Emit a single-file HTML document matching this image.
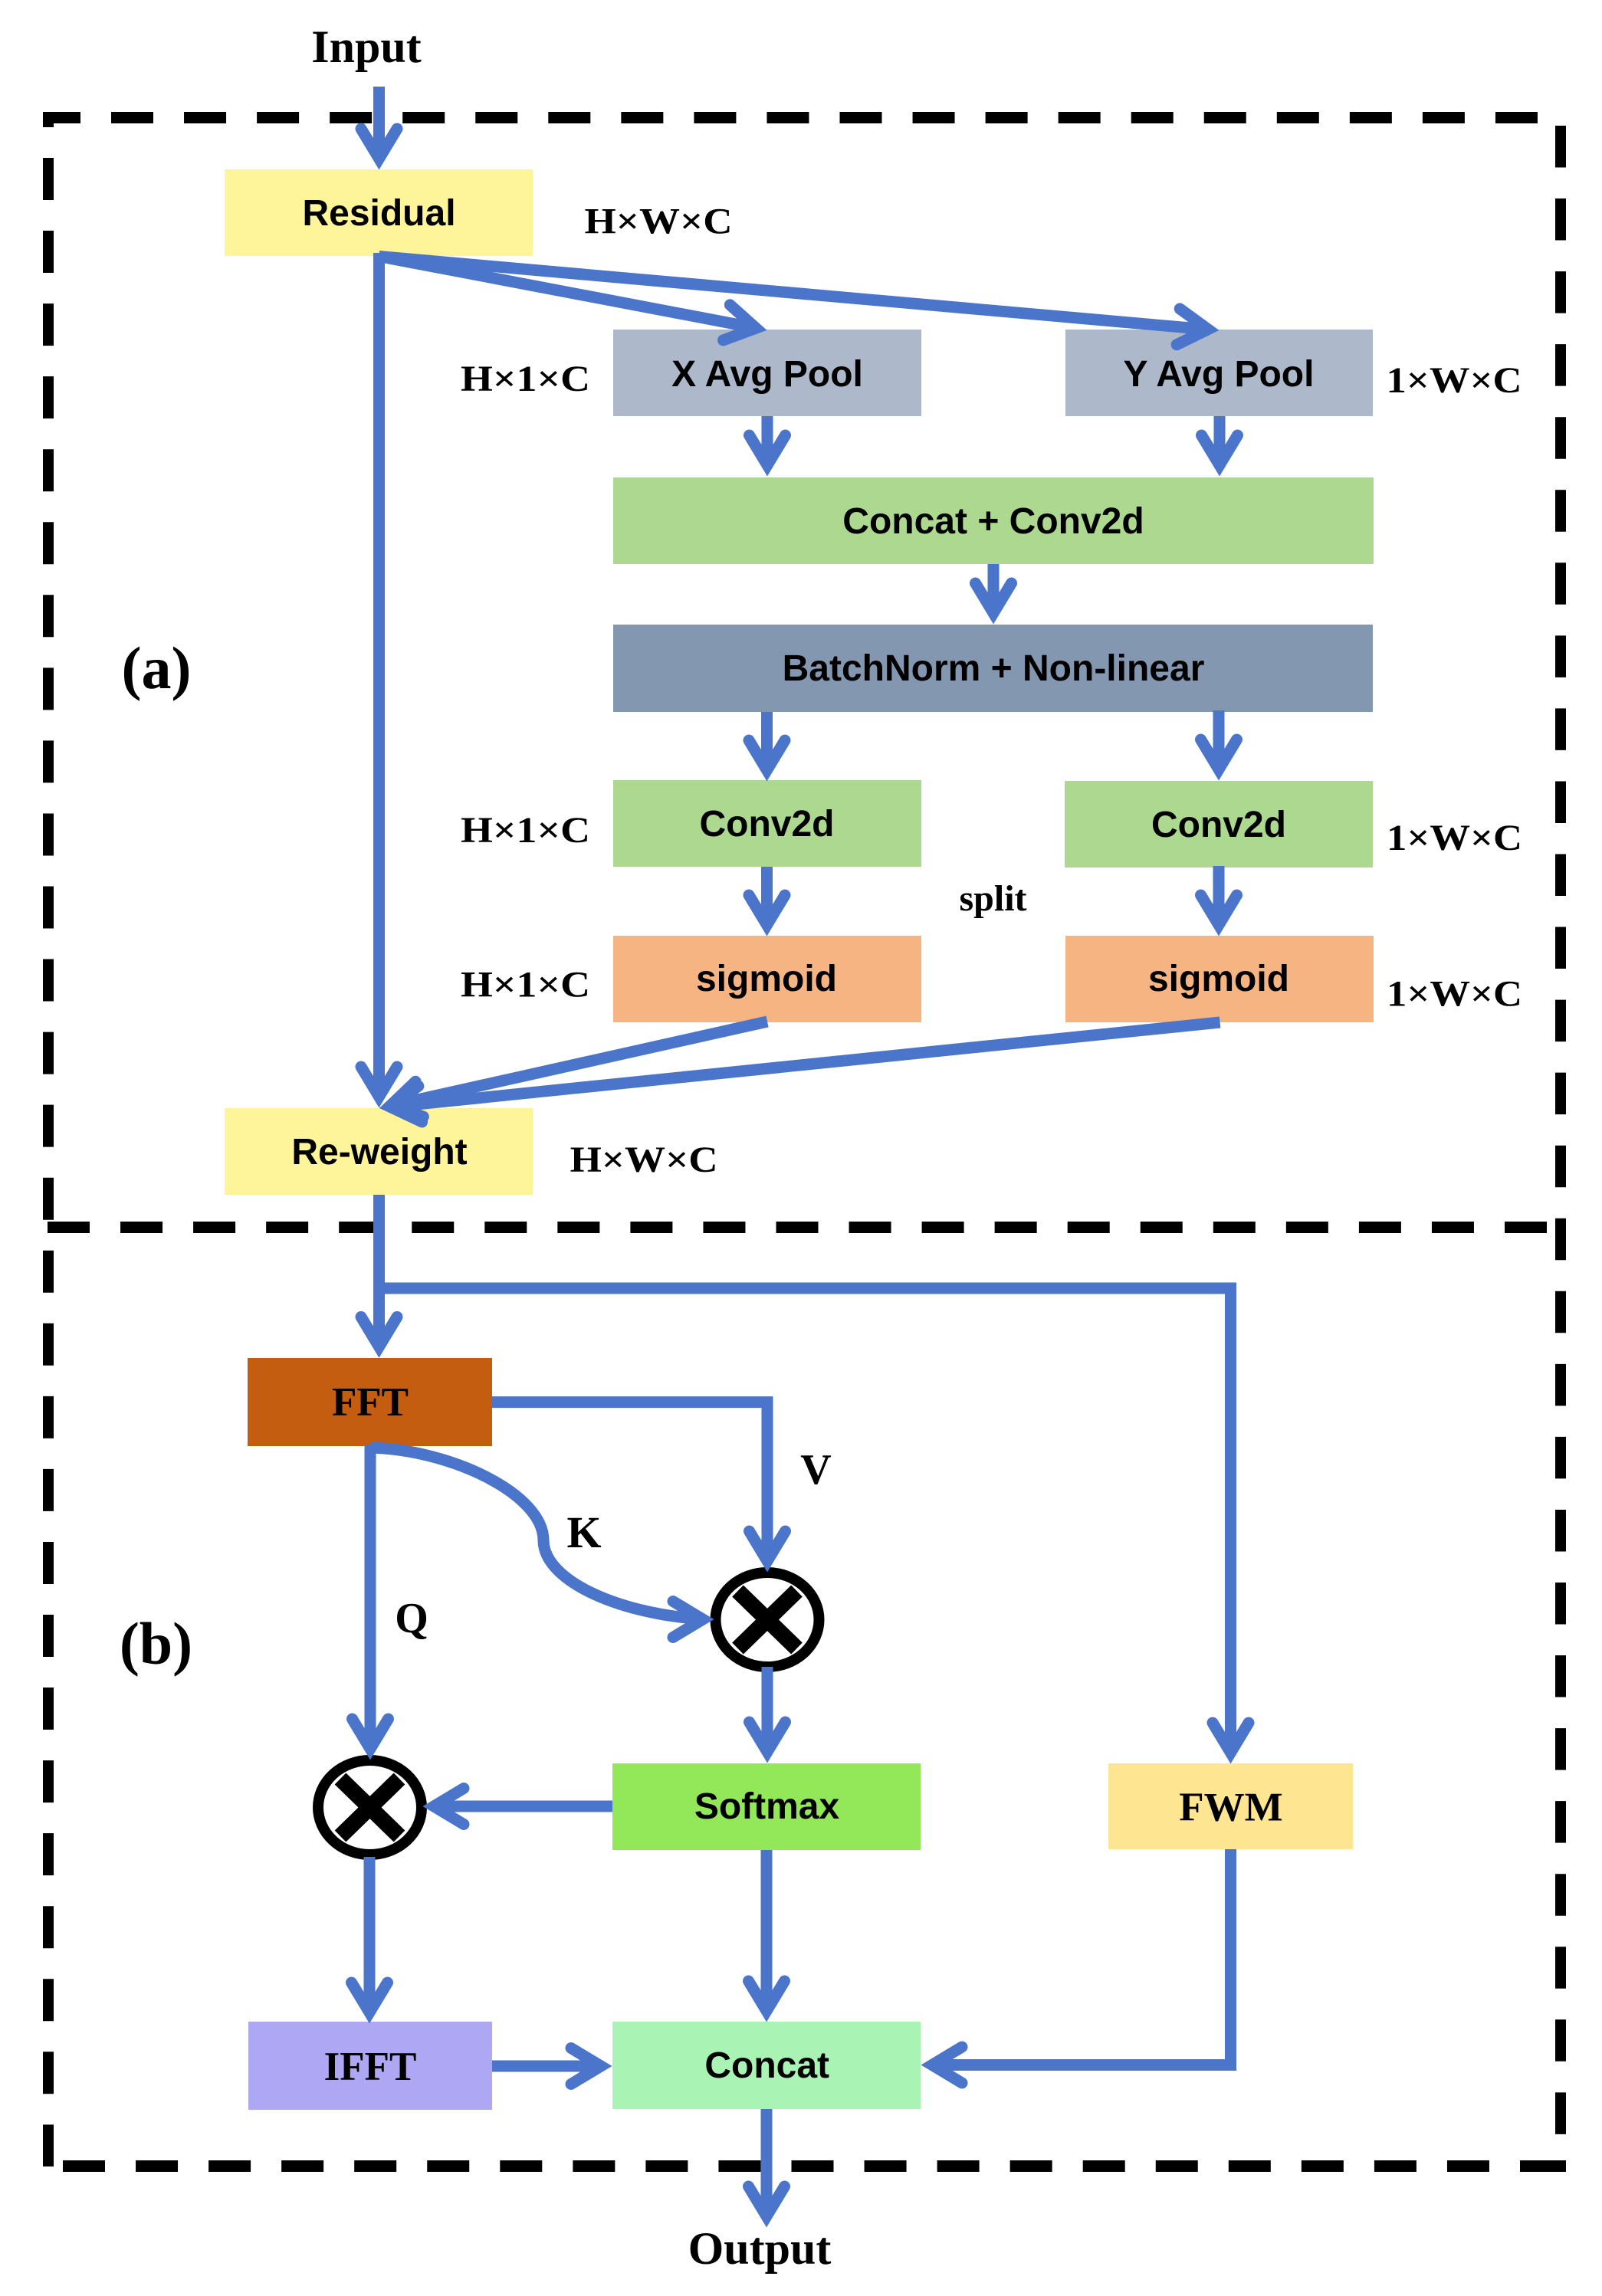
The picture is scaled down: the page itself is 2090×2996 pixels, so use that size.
<!DOCTYPE html>
<html><head><meta charset="utf-8"><title>Diagram</title>
<style>
html,body{margin:0;padding:0;background:#fff}
svg{display:block}
.s{font-family:"Liberation Serif",serif;font-weight:bold;fill:#000}
.a{font-family:"Liberation Sans",sans-serif;font-weight:bold;font-size:48px;fill:#000;text-anchor:middle}
.m{text-anchor:middle}
</style></head><body>
<svg xmlns="http://www.w3.org/2000/svg" width="2090" height="2996" viewBox="0 0 2090 2996">
<defs>
<path id="ah" d="M-23.5 -54 L0 -15 L23.5 -54" fill="none" stroke="#4A75CB" stroke-width="15" stroke-linecap="round" stroke-linejoin="miter" stroke-miterlimit="10"/>
</defs>
<rect width="2090" height="2996" fill="#fff"/>

<!-- dashed frames -->
<g stroke="#000" fill="none">
<line x1="56" y1="153.5" x2="105" y2="153.5" stroke-width="15"/>
<line x1="145" y1="153.5" x2="2006" y2="153.5" stroke-width="15" stroke-dasharray="55 40.05"/>
<line x1="63" y1="146" x2="63" y2="166" stroke-width="14"/>
<line x1="63" y1="206" x2="63" y2="2827" stroke-width="14" stroke-dasharray="55 40.05"/>
<line x1="2036" y1="164" x2="2036" y2="2834" stroke-width="14" stroke-dasharray="54.5 40.55"/>
<line x1="62" y1="1601.5" x2="2018" y2="1601.5" stroke-width="15" stroke-dasharray="55 40.05"/>
<line x1="82" y1="2826.5" x2="2037" y2="2826.5" stroke-width="15" stroke-dasharray="55 40.05"/>
<line x1="2030" y1="2826.5" x2="2043" y2="2826.5" stroke-width="15"/>
</g>

<!-- boxes -->
<rect x="293" y="221" width="402" height="113" fill="#FEF49A"/>
<rect x="800" y="430" width="402" height="113" fill="#ADB9CA"/>
<rect x="1390" y="430" width="401" height="113" fill="#ADB9CA"/>
<rect x="800" y="623" width="992" height="113" fill="#ADD88F"/>
<rect x="800" y="815" width="991" height="114" fill="#8497B0"/>
<rect x="800" y="1018" width="402" height="113" fill="#ADD88F"/>
<rect x="1389" y="1019" width="402" height="113" fill="#ADD88F"/>
<rect x="800" y="1221" width="402" height="113" fill="#F5B482"/>
<rect x="1390" y="1221" width="402" height="113" fill="#F5B482"/>
<rect x="293" y="1446" width="402" height="113" fill="#FEF49A"/>
<rect x="323" y="1772" width="319" height="115" fill="#C55D10"/>
<rect x="799" y="2301" width="402" height="113" fill="#93E85A"/>
<rect x="1446" y="2301" width="319" height="112" fill="#FEE591"/>
<rect x="324" y="2638" width="318" height="115" fill="#AEA8F4"/>
<rect x="799" y="2638" width="402" height="114" fill="#A9F3B4"/>

<!-- multiply circles -->
<ellipse cx="1001" cy="2113.5" rx="67.5" ry="61.5" fill="#fff" stroke="#000" stroke-width="14"/>
<path d="M962.5 2076 L1039.5 2151 M1039.5 2076 L962.5 2151" stroke="#000" stroke-width="21" fill="none"/>
<ellipse cx="482.5" cy="2358.5" rx="67.5" ry="61.5" fill="#fff" stroke="#000" stroke-width="14"/>
<path d="M444 2321 L521 2396 M521 2321 L444 2396" stroke="#000" stroke-width="21" fill="none"/>

<!-- connector lines -->
<g stroke="#4A75CB" stroke-width="15" fill="none" stroke-linejoin="miter">
<line x1="494.5" y1="113" x2="494.5" y2="207"/>
<line x1="494.5" y1="330" x2="494.5" y2="1431"/>
<line x1="494.5" y1="334.5" x2="986" y2="428"/>
<line x1="494.5" y1="334.5" x2="1576" y2="430"/>
<line x1="1001" y1="543" x2="1001" y2="607"/>
<line x1="1591" y1="543" x2="1591" y2="607"/>
<line x1="1296" y1="736" x2="1296" y2="800"/>
<line x1="1000.5" y1="929" x2="1000.5" y2="1005"/>
<line x1="1590" y1="927" x2="1590" y2="1004"/>
<line x1="1000.5" y1="1131" x2="1000.5" y2="1207"/>
<line x1="1590" y1="1130" x2="1590" y2="1207"/>
<line x1="1001" y1="1333" x2="509" y2="1443"/>
<line x1="1591.6" y1="1334" x2="509" y2="1444.5"/>
<line x1="494.5" y1="1559" x2="494.5" y2="1758"/>
<path d="M494.5 1681 L1605.5 1681 L1605.5 2287"/>
<path d="M642 1829.6 L1001 1829.6 L1001 2037"/>
<line x1="483" y1="1885" x2="483" y2="2282"/>
<path d="M484 1889 C590 1892 709 1950 709 2010 C709 2060 800 2105 917 2113"/>
<line x1="1001" y1="2175" x2="1001" y2="2286"/>
<line x1="799" y1="2357" x2="566" y2="2357"/>
<line x1="482" y1="2423" x2="482" y2="2626"/>
<line x1="1000" y1="2414" x2="1000" y2="2624"/>
<line x1="642" y1="2696" x2="784" y2="2696"/>
<path d="M1605.5 2413 L1605.5 2694.5 L1216 2694.5"/>
<line x1="1000" y1="2752" x2="1000" y2="2892"/>
</g>

<!-- arrowheads -->
<use href="#ah" transform="translate(494.5,222)"/>
<use href="#ah" transform="translate(1001,431) rotate(-79.2)"/>
<use href="#ah" transform="translate(1591,431) rotate(-85)"/>
<use href="#ah" transform="translate(1001,622)"/>
<use href="#ah" transform="translate(1591,622)"/>
<use href="#ah" transform="translate(1296,815)"/>
<use href="#ah" transform="translate(1000.5,1020)"/>
<use href="#ah" transform="translate(1590,1019)"/>
<use href="#ah" transform="translate(1000.5,1222)"/>
<use href="#ah" transform="translate(1590,1222)"/>
<use href="#ah" transform="translate(494.5,1446)"/>
<use href="#ah" transform="translate(494.5,1446) rotate(77.4)"/>
<use href="#ah" transform="translate(494.5,1446) rotate(84.2)"/>
<use href="#ah" transform="translate(494.5,1772.4)"/>
<use href="#ah" transform="translate(1605.5,2302)"/>
<use href="#ah" transform="translate(1001,2052)"/>
<use href="#ah" transform="translate(932,2113) rotate(-90)"/>
<use href="#ah" transform="translate(483,2297)"/>
<use href="#ah" transform="translate(1001,2301)"/>
<use href="#ah" transform="translate(551,2357) rotate(90)"/>
<use href="#ah" transform="translate(482,2641)"/>
<use href="#ah" transform="translate(1000,2639)"/>
<use href="#ah" transform="translate(799,2696) rotate(-90)"/>
<use href="#ah" transform="translate(1201,2694.5) rotate(90)"/>
<use href="#ah" transform="translate(1000,2907)"/>

<!-- sans labels -->
<text class="a" x="494.5" y="294">Residual</text>
<text class="a" x="1001" y="504">X Avg Pool</text>
<text class="a" x="1590" y="504">Y Avg Pool</text>
<text class="a" x="1296" y="696">Concat + Conv2d</text>
<text class="a" x="1296" y="888">BatchNorm + Non-linear</text>
<text class="a" x="1000.5" y="1091">Conv2d</text>
<text class="a" x="1590" y="1092">Conv2d</text>
<text class="a" x="1000" y="1293">sigmoid</text>
<text class="a" x="1590" y="1293">sigmoid</text>
<text class="a" x="495" y="1519">Re-weight</text>
<text class="a" x="1000.5" y="2373">Softmax</text>
<text class="a" x="1000.7" y="2711">Concat</text>

<!-- serif labels -->
<text class="s m" x="478" y="81" font-size="60">Input</text>
<text class="s m" x="991" y="2954" font-size="60">Output</text>
<text class="s" x="762.5" y="304.6" font-size="48" textLength="193" lengthAdjust="spacingAndGlyphs">H×W×C</text>
<text class="s" x="601" y="510" font-size="48" textLength="169" lengthAdjust="spacingAndGlyphs">H×1×C</text>
<text class="s" x="1808.5" y="512" font-size="48" textLength="177" lengthAdjust="spacingAndGlyphs">1×W×C</text>
<text class="s" x="601" y="1099" font-size="48" textLength="169" lengthAdjust="spacingAndGlyphs">H×1×C</text>
<text class="s" x="1809" y="1109" font-size="48" textLength="177" lengthAdjust="spacingAndGlyphs">1×W×C</text>
<text class="s" x="601" y="1300.5" font-size="48" textLength="169" lengthAdjust="spacingAndGlyphs">H×1×C</text>
<text class="s" x="1809" y="1312.5" font-size="48" textLength="177" lengthAdjust="spacingAndGlyphs">1×W×C</text>
<text class="s" x="743.6" y="1529" font-size="48" textLength="193" lengthAdjust="spacingAndGlyphs">H×W×C</text>
<text class="s m" x="1295.5" y="1188" font-size="48">split</text>
<text class="s m" x="204" y="898" font-size="78">(a)</text>
<text class="s m" x="203.5" y="2171" font-size="78">(b)</text>
<text class="s m" x="483" y="1847" font-size="53">FFT</text>
<text class="s m" x="1064.5" y="1936" font-size="56">V</text>
<text class="s m" x="762" y="2019" font-size="58">K</text>
<text class="s m" x="537" y="2130" font-size="56">Q</text>
<text class="s m" x="1606" y="2375.5" font-size="53">FWM</text>
<text class="s m" x="483" y="2714" font-size="53">IFFT</text>
</svg>
</body></html>
